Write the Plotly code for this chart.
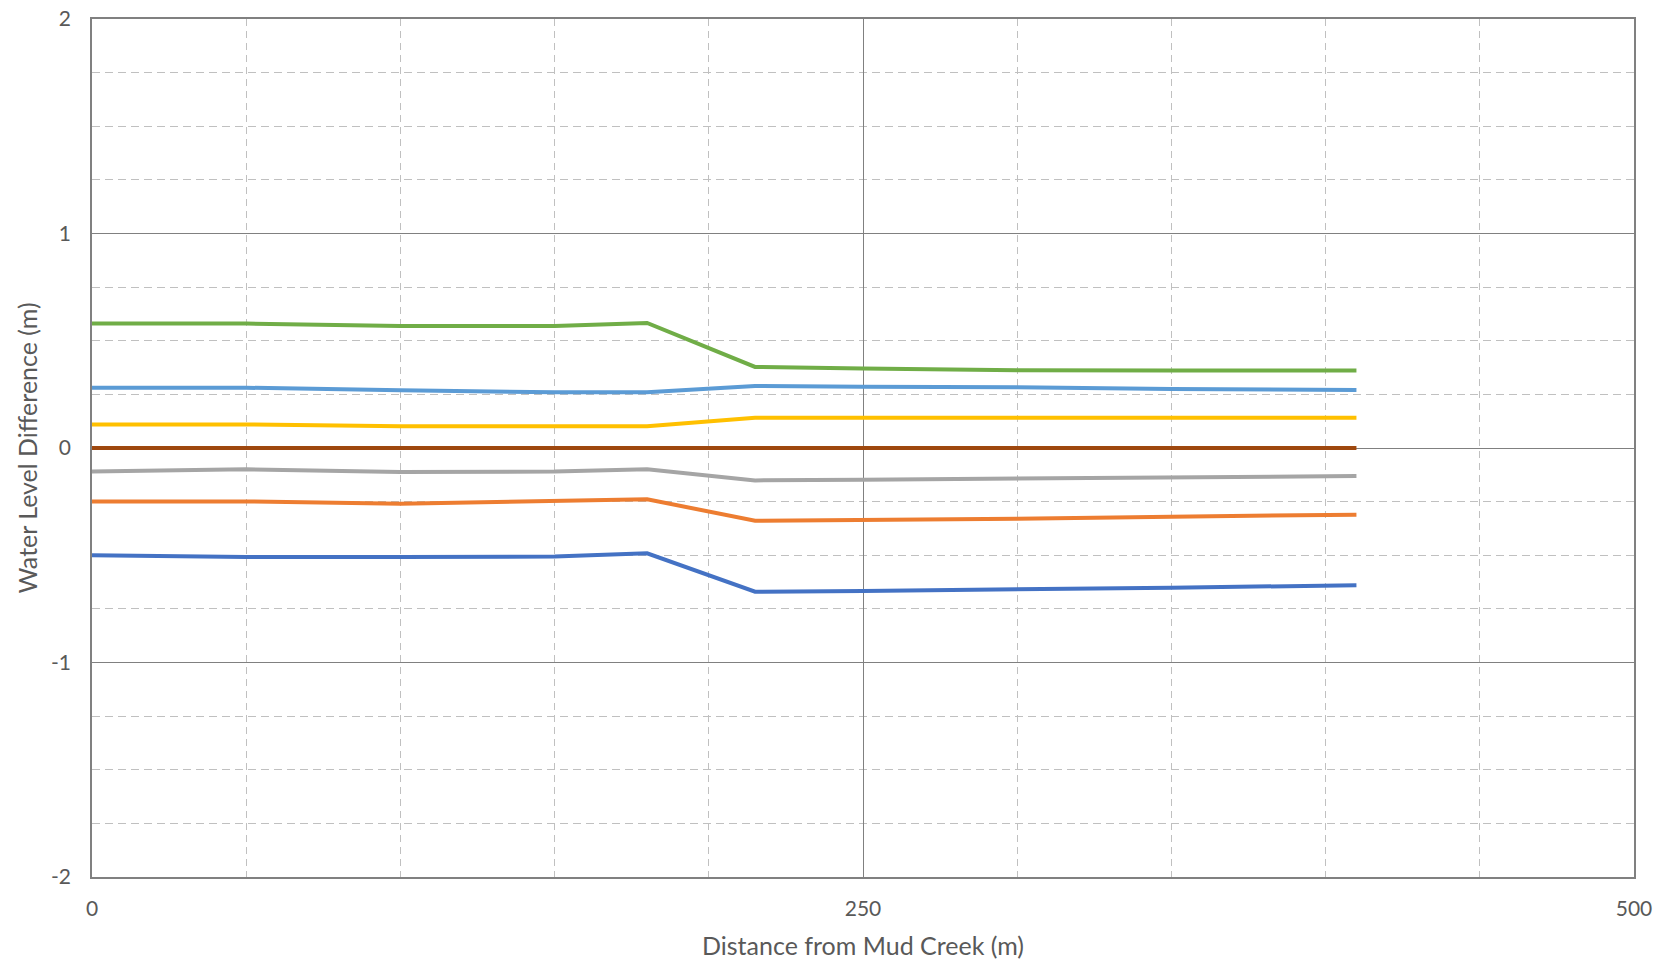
import plotly.graph_objects as go

distance = [0, 50, 100, 150, 180, 215, 250, 300, 350, 410]

series_green = [0.58, 0.58, 0.569, 0.569, 0.583, 0.378, 0.371, 0.362, 0.361, 0.361]
series_lightblue = [0.281, 0.281, 0.269, 0.26, 0.26, 0.289, 0.286, 0.283, 0.275, 0.27]
series_yellow = [0.11, 0.11, 0.101, 0.101, 0.101, 0.141, 0.141, 0.141, 0.141, 0.141]
series_brown = [0, 0, 0, 0, 0, 0, 0, 0, 0, 0]
series_gray = [-0.110, -0.099, -0.112, -0.110, -0.099, -0.151, -0.148, -0.143, -0.137, -0.131]
series_orange = [-0.249, -0.249, -0.26, -0.248, -0.239, -0.339, -0.336, -0.33, -0.32, -0.311]
series_blue = [-0.50, -0.508, -0.508, -0.506, -0.491, -0.67, -0.667, -0.661, -0.651, -0.64]

x_ticks = [0, 250, 500]
y_ticks = [-2, -1, 0, 1, 2]
x_title = "Distance from Mud Creek (m)"
y_title = "Water Level Difference (m)"

series = [
    (series_blue, "#4472C4"),
    (series_orange, "#ED7D31"),
    (series_gray, "#A5A5A5"),
    (series_yellow, "#FFC000"),
    (series_lightblue, "#5B9BD5"),
    (series_green, "#70AD47"),
    (series_brown, "#9E480E"),
]

fig = go.Figure()
for vals, col in series:
    fig.add_trace(go.Scatter(x=distance, y=vals, mode="lines",
                             line=dict(color=col, width=4), showlegend=False))

font_family = "Lato, 'Open Sans', sans-serif"
text_col = "#595959"
major_col = "#808080"
minor_col = "#C0C0C0"

fig.update_layout(
    width=1667, height=963,
    margin=dict(l=92, r=33, t=19, b=86),
    paper_bgcolor="white", plot_bgcolor="white",
    font=dict(family=font_family, size=21, color=text_col),
    annotations=[dict(text=x_title, xref="paper", yref="paper", x=0.5, y=0,
                      xanchor="center", yanchor="middle", yshift=-68, showarrow=False,
                      font=dict(size=25, color=text_col))],
)

fig.update_xaxes(
    range=[0, 500], tickvals=x_ticks, ticktext=[str(v) for v in x_ticks],
    showgrid=True, gridcolor=major_col, gridwidth=1.3,
    zeroline=False, automargin=False, ticklabeloverflow="allow",
    showline=True, linecolor=major_col, linewidth=1.5, mirror=True,
    ticks="", ticklabelstandoff=12,
    minor=dict(dtick=50, showgrid=True, gridcolor=minor_col, gridwidth=1.3, griddash="7px,5px"),
)
fig.update_yaxes(
    range=[-2, 2], tickvals=y_ticks, ticktext=[str(v) for v in y_ticks],
    showgrid=True, gridcolor=major_col, gridwidth=1.3,
    zeroline=True, zerolinecolor=major_col, zerolinewidth=1.3, automargin="left",
    ticklabeloverflow="allow",
    showline=True, linecolor=major_col, linewidth=1.5, mirror=True,
    ticks="", ticklabelstandoff=15,
    minor=dict(dtick=0.25, showgrid=True, gridcolor=minor_col, gridwidth=1.3, griddash="8px,5px"),
    title=dict(text=y_title, font=dict(size=25, color=text_col), standoff=6),
)

fig.write_html("out.html", config={"displayModeBar": False},
               post_script="document.body.style.margin='0';")
